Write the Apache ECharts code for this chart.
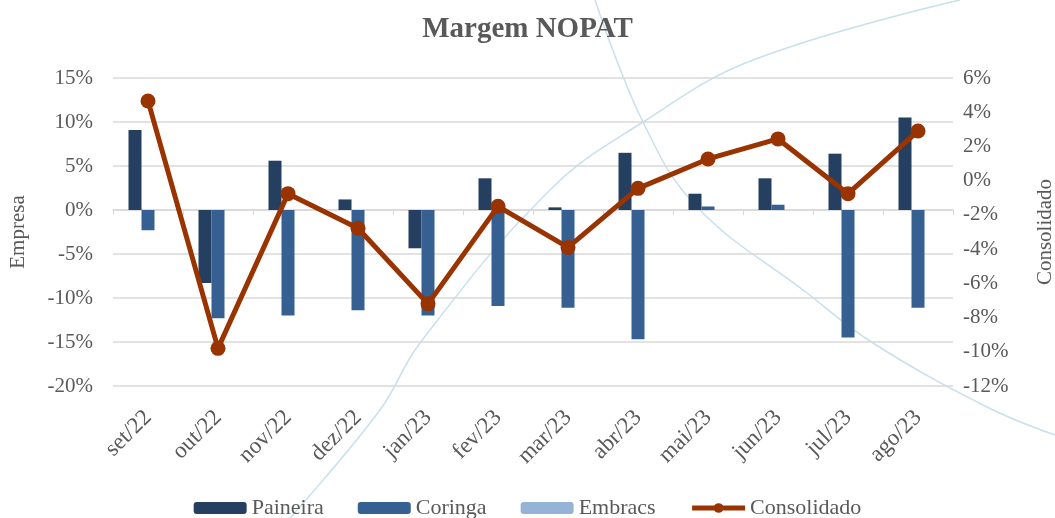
<!DOCTYPE html>
<html>
<head>
<meta charset="utf-8">
<script src="https://cdn.jsdelivr.net/npm/echarts@6/dist/echarts.min.js"></script>
<style>
  html, body { margin: 0; padding: 0; background: #fff; }
  #chart { width: 1055px; height: 518px; }
</style>
</head>
<body>
<div id="chart"></div>
<script>
var categories = ['set/22', 'out/22', 'nov/22', 'dez/22', 'jan/23', 'fev/23', 'mar/23', 'abr/23', 'mai/23', 'jun/23', 'jul/23', 'ago/23']
var paineira = [9.1, -8.3, 5.6, 1.2, -4.35, 3.6, 0.3, 6.5, 1.85, 3.6, 6.4, 10.5]
var coringa = [-2.3, -12.3, -12.0, -11.4, -12.0, -10.9, -11.1, -14.7, 0.4, 0.6, -14.5, -11.1]
var embracs = [0, 0, 0, 0, 0, 0, 0, 0, 0, 0, 0, 0]
var consolidado = [4.66, -9.8, -0.76, -2.78, -7.2, -1.5, -3.9, -0.45, 1.27, 2.44, -0.76, 2.9]

var serif = '"Liberation Serif", "DejaVu Serif", serif'
var grey = '#595959'
var arc = '#c9dfe9'
var red = '#993300'

var chart = echarts.init(document.getElementById('chart'))
chart.setOption({
  animation: false,
  textStyle: { fontFamily: serif },
  title: {
    text: 'Margem NOPAT',
    left: 'center',
    top: 10,
    textStyle: { fontFamily: serif, fontSize: 29, fontWeight: 'bold', color: grey }
  },
  graphic: [
    { type: 'polyline', silent: true, z: -1,
      shape: { points: [[290, 518], [380, 410], [420, 343], [550, 190], [643, 122], [753, 60], [960, 0]], smooth: 0.4 },
      style: { stroke: arc, lineWidth: 1.5, fill: null } },
    { type: 'polyline', silent: true, z: -1,
      shape: { points: [[595, 0], [643, 122], [697, 207], [807, 293], [873, 343], [987, 407], [1055, 435]], smooth: 0.4 },
      style: { stroke: arc, lineWidth: 1.5, fill: null } }
  ],
  legend: {
    bottom: -6,
    left: 'center',
    itemWidth: 53,
    itemHeight: 12,
    itemGap: 34,
    textStyle: { fontFamily: serif, fontSize: 22, color: grey },
    data: ['Paineira', 'Coringa', 'Embracs',
      { name: 'Consolidado', lineStyle: { width: 5, color: red }, itemStyle: { color: red } }]
  },
  grid: { left: 113, right: 102, top: 78, bottom: 132, outerBoundsMode: 'none' },
  xAxis: {
    type: 'category',
    data: categories,
    axisLine: { lineStyle: { color: '#d9d9d9', width: 1.5 } },
    axisTick: { show: true, length: 5, lineStyle: { color: '#d9d9d9' } },
    axisLabel: { rotate: 45, fontFamily: serif, fontSize: 23, color: grey, margin: 28 }
  },
  yAxis: [
    {
      type: 'value',
      name: 'Empresa',
      nameLocation: 'middle',
      nameGap: 84,
      nameTextStyle: { fontFamily: serif, fontSize: 21, color: grey },
      min: -20, max: 15, interval: 5,
      axisLabel: { formatter: '{value}%', fontFamily: serif, fontSize: 21, color: grey, margin: 20 },
      axisLine: { show: false },
      axisTick: { show: false },
      splitLine: { lineStyle: { color: '#d9d9d9', width: 1.5 } }
    },
    {
      type: 'value',
      name: 'Consolidado',
      nameLocation: 'middle',
      nameGap: 82,
      nameRotate: 90,
      nameTextStyle: { fontFamily: serif, fontSize: 21, color: grey },
      min: -12, max: 6, interval: 2,
      axisLabel: { formatter: '{value}%', fontFamily: serif, fontSize: 21, color: grey, margin: 10 },
      axisLine: { show: false },
      axisTick: { show: false },
      splitLine: { show: false }
    }
  ],
  series: [
    { name: 'Paineira', type: 'bar', data: paineira, barWidth: 13, barGap: '0%',
      itemStyle: { color: '#243f60' } },
    { name: 'Coringa', type: 'bar', data: coringa, barWidth: 13, barGap: '0%',
      itemStyle: { color: '#376092' } },
    { name: 'Embracs', type: 'bar', data: embracs, barWidth: 13, barGap: '0%',
      itemStyle: { color: '#95b3d7' } },
    { name: 'Consolidado', type: 'line', yAxisIndex: 1, data: consolidado,
      symbol: 'circle', symbolSize: 15,
      lineStyle: { color: red, width: 5 },
      itemStyle: { color: red } }
  ]
})
</script>
</body>
</html>
